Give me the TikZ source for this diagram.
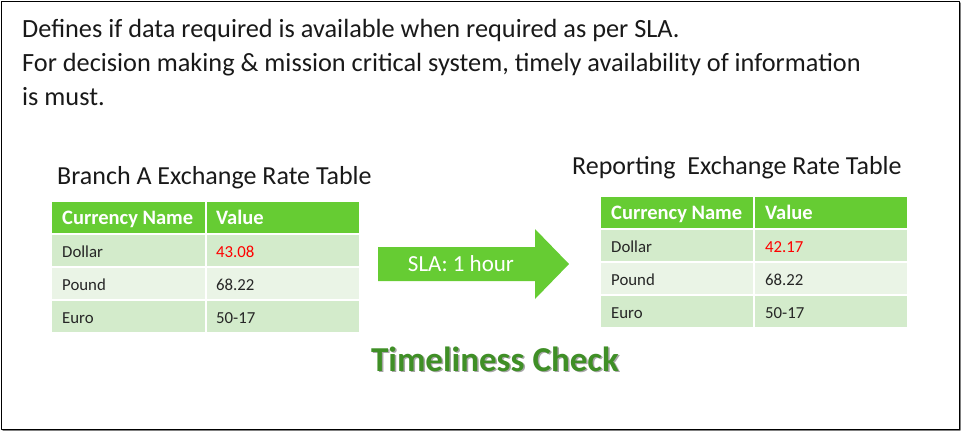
\documentclass[tikz,border=0pt]{standalone}
\usepackage{fontspec}
\setmainfont{Carlito}
\usepackage{tikz}
\definecolor{hdrgreen}{HTML}{66CC33}
\definecolor{rowdark}{HTML}{D3EBCB}
\definecolor{rowlight}{HTML}{EAF4E6}
\definecolor{txtgray}{HTML}{262626}
\definecolor{titlegreen}{HTML}{3F8F26}
\tikzset{
  hdrcell/.style={fill=hdrgreen, draw=white, line width=1.5pt},
  darkcell/.style={fill=rowdark, draw=white, line width=1.5pt},
  lightcell/.style={fill=rowlight, draw=white, line width=1.5pt},
  hdrtext/.style={anchor=base west, inner sep=0pt, text=white, font=\fontsize{20.5}{24}\selectfont\bfseries},
  celltext/.style={anchor=base west, inner sep=0pt, text=txtgray, font=\fontsize{16.8}{20}\selectfont},
  tabtitle/.style={anchor=base west, inner sep=0pt, text=black!90, font=\fontsize{26}{30}\selectfont},
  bodytext/.style={anchor=base west, inner sep=0pt, text=black!90, font=\fontsize{26.3}{30}\selectfont}
}
\begin{document}
\begin{tikzpicture}[line cap=round,line join=round,x=1pt,y=-1pt]
\useasboundingbox (0,0) rectangle (962,432);
%frame
\draw [gray, line width=1.5pt] (3,430) -- (960,430) -- (960,3);
\draw [black, line width=0.8pt] (1.5,1.5) rectangle (959,429);
%labels
    \node[bodytext] at (22, 37)   (l1) {Defines if data required is available when required as per SLA.};
    \node[bodytext] at (22, 71.5) (l2) {For decision making \& mission critical system, timely availability of information};
    \node[bodytext] at (22, 105)  (l3) {is must.};
    \node[tabtitle] at (57, 184)  (ta) {Branch A Exchange Rate Table};
    \node[tabtitle] at (572, 174) (tb) {Reporting\ \ Exchange Rate Table};
%%%%%%%% table left
\fill[hdrcell] (51,201) rectangle (206,234);%header
\fill[hdrcell] (206,201) rectangle (360,234);
\fill[darkcell] (51,234) rectangle (206,267);%dollar
\fill[darkcell] (206,234) rectangle (360,267);
\fill[lightcell] (51,267) rectangle (206,300);%pound
\fill[lightcell] (206,267) rectangle (360,300);
\fill[darkcell] (51,300) rectangle (206,333);%euro
\fill[darkcell] (206,300) rectangle (360,333);
    \node[hdrtext] at (62, 224)  (ah1) {Currency Name};
    \node[hdrtext] at (216, 224) (ah2) {Value};
    \node[celltext] at (62, 257)   (ad) {Dollar};
    \node[celltext, text=red] at (216, 257) (adv) {43.08};
    \node[celltext] at (62, 290)   (ap) {Pound};
    \node[celltext] at (216, 290)  (apv) {68.22};
    \node[celltext] at (62, 323)   (ae) {Euro};
    \node[celltext] at (216, 323)  (aev) {50-17};
%%%%%%%% table right
\fill[hdrcell] (600,196) rectangle (754,229);%header
\fill[hdrcell] (754,196) rectangle (908,229);
\fill[darkcell] (600,229) rectangle (754,262);%dollar
\fill[darkcell] (754,229) rectangle (908,262);
\fill[lightcell] (600,262) rectangle (754,295);%pound
\fill[lightcell] (754,262) rectangle (908,295);
\fill[darkcell] (600,295) rectangle (754,328);%euro
\fill[darkcell] (754,295) rectangle (908,328);
    \node[hdrtext] at (611, 219) (bh1) {Currency Name};
    \node[hdrtext] at (765, 219) (bh2) {Value};
    \node[celltext] at (611, 252)  (bd) {Dollar};
    \node[celltext, text=red] at (765, 252) (bdv) {42.17};
    \node[celltext] at (611, 285)  (bp) {Pound};
    \node[celltext] at (765, 285)  (bpv) {68.22};
    \node[celltext] at (611, 318)  (be) {Euro};
    \node[celltext] at (765, 318)  (bev) {50-17};
%%%arrow
\fill[hdrgreen] (378,247) -- (535,247) -- (535,229) -- (569,264) -- (535,299) -- (535,281) -- (378,281) -- cycle;
    \node[text=white, font=\fontsize{23}{27}\selectfont] at (461, 264) (sla) {SLA: 1 hour};
%%%title
    \node[text=black!35, font=\fontsize{35}{40}\selectfont\bfseries] at (496.5, 360.5) (tcs) {Timeliness Check};
    \node[text=titlegreen, font=\fontsize{35}{40}\selectfont\bfseries] at (495, 359) (tc) {Timeliness Check};
\end{tikzpicture}
\end{document}
